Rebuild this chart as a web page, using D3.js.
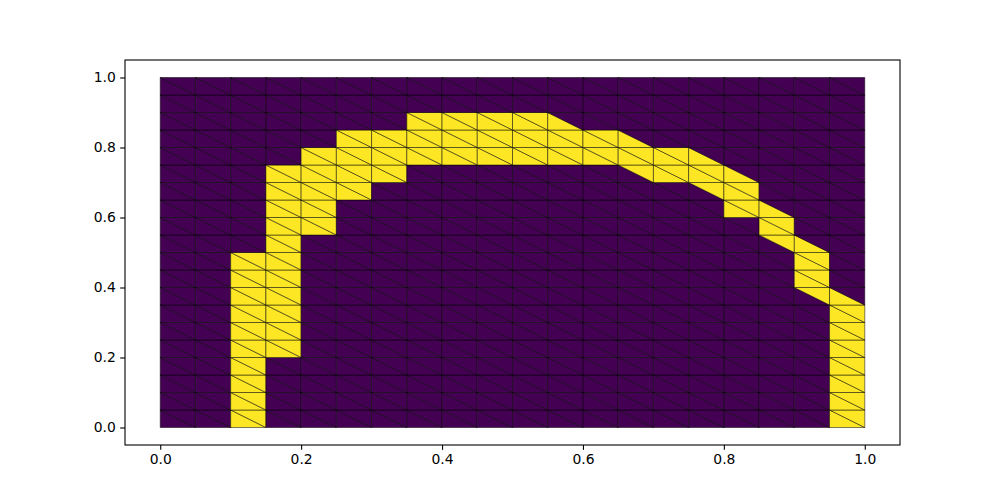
<!DOCTYPE html>
<html>
<head>
<meta charset="utf-8">
<script src="https://cdn.jsdelivr.net/npm/d3@7/dist/d3.min.js"></script>
<style>
  html, body { margin: 0; padding: 0; background: #ffffff; }
  svg { display: block; }
  text { font-family: "DejaVu Sans", sans-serif; font-size: 13.9px; fill: #000; }
</style>
</head>
<body>
<svg id="chart" width="1000" height="500"></svg>
<script>
// Grid node coordinates (mesh vertices)
const xNodes = [0.00,0.05,0.10,0.15,0.20,0.25,0.30,0.35,0.40,0.45,0.50,0.55,0.60,0.65,0.70,0.75,0.80,0.85,0.90,0.95,1.00];
const yNodes = [0.00,0.05,0.10,0.15,0.20,0.25,0.30,0.35,0.40,0.45,0.50,0.55,0.60,0.65,0.70,0.75,0.80,0.85,0.90,0.95,1.00];

// Yellow (value 1) band, per grid column
const bandCols      = [2, 3, 4, 5, 6, 7, 8, 9, 10, 11, 12, 13, 14, 15, 16, 17, 18, 19];
const fullRowStart  = [0, 4, 11, 13, 14, 15, 15, 15, 15, 15, 15, 15, 14, 14, 12, 11, 8, 0];
const fullRowEnd    = [9, 14, 15, 16, 16, 17, 17, 17, 17, 16, 16, 15, 15, 14, 13, 11, 9, 6];
// half cells: lower-left triangle on top of column, upper-right triangle below column
const lowerTriRow   = [null,null,null,null,null,null,null,null,null,17,null,16,null,15,14,12,10,7];
const upperTriRow   = [null,null,null,null,null,null,null,null,null,null,null,14,null,13,null,10,7,null];

const xTicks = [0.0, 0.2, 0.4, 0.6, 0.8, 1.0];
const yTicks = [0.0, 0.2, 0.4, 0.6, 0.8, 1.0];

const svg = d3.select("#chart");
const mLeft = 125, mRight = 900, mTop = 60, mBottom = 445;

const x = d3.scaleLinear().domain([-0.05, 1.05]).range([mLeft, mRight]);
const y = d3.scaleLinear().domain([-0.05, 1.05]).range([mBottom, mTop]);

function triValue(i, j, kind) {
  const k = bandCols.indexOf(i);
  if (k < 0) return 0;
  if (j >= fullRowStart[k] && j <= fullRowEnd[k]) return 1;
  if (kind === "L" && lowerTriRow[k] === j) return 1;
  if (kind === "U" && upperTriRow[k] === j) return 1;
  return 0;
}

const tris = [];
for (let i = 0; i < xNodes.length - 1; i++) {
  for (let j = 0; j < yNodes.length - 1; j++) {
    const x0 = xNodes[i], x1 = xNodes[i + 1], y0 = yNodes[j], y1 = yNodes[j + 1];
    tris.push({ pts: [[x0, y0], [x1, y0], [x0, y1]], v: triValue(i, j, "L") });
    tris.push({ pts: [[x1, y0], [x1, y1], [x0, y1]], v: triValue(i, j, "U") });
  }
}

const color = d3.scaleSequential(d3.interpolateViridis).domain([0, 1]);
const line = d3.line().x(d => x(d[0])).y(d => y(d[1]));

svg.append("g").selectAll("path").data(tris).join("path")
  .attr("d", d => line(d.pts) + "Z")
  .attr("fill", d => color(d.v))
  .attr("stroke", "#000")
  .attr("stroke-width", 0.5)
  .attr("stroke-linejoin", "miter");

const xAxis = d3.axisBottom(x).tickValues(xTicks).tickFormat(d3.format(".1f")).tickSizeOuter(0).tickSize(4.86).tickPadding(4.3);
const yAxis = d3.axisLeft(y).tickValues(yTicks).tickFormat(d3.format(".1f")).tickSizeOuter(0).tickSize(4.86).tickPadding(4.3);

const gx = svg.append("g").attr("transform", `translate(0,${mBottom})`).call(xAxis);
const gy = svg.append("g").attr("transform", `translate(${mLeft},0)`).call(yAxis);
[gx, gy].forEach(g => {
  g.select(".domain").remove();
  g.selectAll(".tick line").attr("stroke", "#000").attr("stroke-width", 1.1);
  g.selectAll(".tick text").attr("fill", "#000")
    .style("font-family", "'DejaVu Sans', sans-serif").style("font-size", "13.9px");
});

svg.append("rect")
  .attr("x", mLeft).attr("y", mTop)
  .attr("width", mRight - mLeft).attr("height", mBottom - mTop)
  .attr("fill", "none").attr("stroke", "#000").attr("stroke-width", 1.1);
</script>
</body>
</html>
